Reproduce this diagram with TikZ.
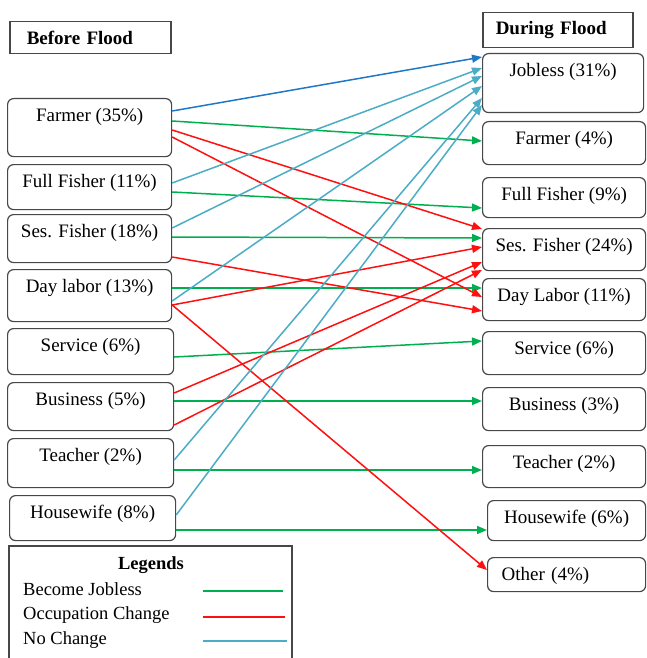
\documentclass[tikz,border=0pt]{standalone}
\usepackage{fontspec}
\setmainfont{Liberation Serif}
\usetikzlibrary{arrows.meta}
\definecolor{jobgreen}{HTML}{00B050}
\definecolor{chgred}{HTML}{FF1010}
\definecolor{nocyan}{HTML}{4BACC6}
\definecolor{toblue}{HTML}{1E78C8}
\definecolor{boxgray}{HTML}{474747}
\tikzset{
  occ/.style={draw=boxgray, line width=1.2pt, rounded corners=6pt, anchor=north west,
    inner xsep=4pt, inner ysep=9pt, text height=14pt, font=\fontsize{19}{22}\selectfont},
  title/.style={draw=boxgray, line width=1.5pt, anchor=north west, inner ysep=0pt,
    align=left, font=\fontsize{19}{22}\selectfont\bfseries},
  flow/.style={line width=1.5pt, -{Triangle[length=10pt,width=8pt]}},
  jl/.style={flow, color=jobgreen},
  oc/.style={flow, color=chgred},
  nc/.style={flow, color=nocyan},
  legtext/.style={anchor=west, inner sep=0pt, font=\fontsize{18.5}{22}\selectfont}
}
\begin{document}
\begin{tikzpicture}[x=1pt,y=-1pt]
    \useasboundingbox (0,0) rectangle (646,658);
    % headings
    \node[title, text width=127pt, inner xsep=17pt, minimum height=32pt] (bf) at (9,21) {Before Flood};
    \node[title, text width=124pt, inner xsep=13pt, minimum height=35pt] (df) at (482,12) {During Flood};
    % before flood
    \node[occ, minimum width=164pt, text depth=26pt] (f1) at (7,98) {Farmer (35\%)};
    \node[occ, minimum width=164pt, text depth=13pt] (f2) at (7,164) {Full Fisher (11\%)};
    \node[occ, minimum width=164pt, text depth=16pt] (f3) at (7,214) {Ses. Fisher (18\%)};
    \node[occ, minimum width=164pt, text depth=20pt] (f4) at (7,269) {Day labor (13\%)};
    \node[occ, minimum width=166pt, text depth=14pt] (f5) at (7,328) {Service (6\%)};
    \node[occ, minimum width=166pt, text depth=16pt] (f6) at (7,382) {Business (5\%)};
    \node[occ, minimum width=166pt, text depth=17pt] (f7) at (7,438) {Teacher (2\%)};
    \node[occ, minimum width=166pt, text depth=13pt] (f8) at (9,495) {Housewife (8\%)};
    % during flood
    \node[occ, minimum width=161pt, text depth=27pt] (d1) at (482,53) {Jobless (31\%)};
    \node[occ, minimum width=163pt, text depth=11pt] (d2) at (482,121) {Farmer (4\%)};
    \node[occ, minimum width=163pt, text depth=8pt] (d3) at (482,177) {Full Fisher (9\%)};
    \node[occ, minimum width=163pt, text depth=10pt] (d4) at (482,228) {Ses. Fisher (24\%)};
    \node[occ, minimum width=163pt, text depth=10pt] (d5) at (482,278) {Day Labor (11\%)};
    \node[occ, minimum width=163pt, text depth=11pt] (d6) at (482,331) {Service (6\%)};
    \node[occ, minimum width=163pt, text depth=11pt] (d7) at (482,387) {Business (3\%)};
    \node[occ, minimum width=163pt, text depth=10pt] (d8) at (482,445) {Teacher (2\%)};
    \node[occ, minimum width=158pt, text depth=8pt] (d9) at (487,500) {Housewife (6\%)};
    \node[occ, text width=130pt, align=left, inner xsep=14pt, text depth=2pt] (d10) at (487,557) {Other (4\%)};
    % become jobless
    \draw[jl] ([yshift=-23pt]f1.north east) -- ([yshift=-20pt]d2.north west);
    \draw[jl] ([yshift=-28pt]f2.north east) -- ([yshift=-31pt]d3.north west);
    \draw[jl] ([yshift=-23pt]f3.north east) -- ([yshift=-10pt]d4.north west);
    \draw[jl] ([yshift=-19pt]f4.north east) -- ([yshift=-10pt]d5.north west);
    \draw[jl] ([yshift=-29pt]f5.north east) -- ([yshift=-10pt]d6.north west);
    \draw[jl] ([yshift=-19pt]f6.north east) -- ([yshift=-14pt]d7.north west);
    \draw[jl] ([yshift=-32pt]f7.north east) -- ([yshift=-25pt]d8.north west);
    \draw[jl] ([yshift=-35pt]f8.north east) -- ([yshift=-30pt]d9.north west);
    % occupation change
    \draw[oc] ([yshift=-32pt]f1.north east) -- ([yshift=-1pt]d4.north west);
    \draw[oc] ([yshift=-39pt]f1.north east) -- ([yshift=-19pt]d5.north west);
    \draw[oc] ([yshift=-43pt]f3.north east) -- ([yshift=-33pt]d5.north west);
    \draw[oc] ([yshift=-36pt]f4.north east) -- ([yshift=-19pt]d4.north west);
    \draw[oc] ([yshift=-36pt]f4.north east) -- ([yshift=-13pt]d10.north west);
    \draw[oc] ([yshift=-11pt]f6.north east) -- ([yshift=-34pt]d4.north west);
    \draw[oc] ([yshift=-43pt]f6.north east) -- ([yshift=-42pt]d4.north west);
    % no change
    \draw[flow, color=toblue] ([yshift=-13pt]f1.north east) -- ([yshift=-4pt]d1.north west);
    \draw[nc] ([yshift=-19pt]f2.north east) -- ([yshift=-15pt]d1.north west);
    \draw[nc] ([yshift=-14pt]f3.north east) -- ([yshift=-23pt]d1.north west);
    \draw[nc] ([yshift=-32pt]f4.north east) -- ([yshift=-33pt]d1.north west);
    \draw[nc] ([yshift=-22pt]f7.north east) -- ([yshift=-45pt]d1.north west);
    \draw[nc] ([yshift=-20pt]f8.north east) -- ([yshift=-52pt]d1.north west);
    % legends
    \draw[draw=boxgray, line width=1.3pt] (9,546) rectangle (292,662);
    \node[font=\fontsize{18.5}{22}\selectfont\bfseries] (lg) at (151,565) {Legends};
    \node[legtext] (l1) at (23,589) {Become Jobless};
    \node[legtext] (l2) at (23,615) {Occupation Change};
    \node[legtext] (l3) at (23,640) {No Change};
    \coordinate (k1) at (203,591);
    \coordinate (k2) at (203,617);
    \coordinate (k3) at (203,641);
    \draw[jobgreen, line width=1.8pt] (k1) -- ++(80,0);
    \draw[chgred, line width=1.8pt] (k2) -- ++(82,0);
    \draw[nocyan, line width=1.8pt] (k3) -- ++(84,0);
\end{tikzpicture}
\end{document}
